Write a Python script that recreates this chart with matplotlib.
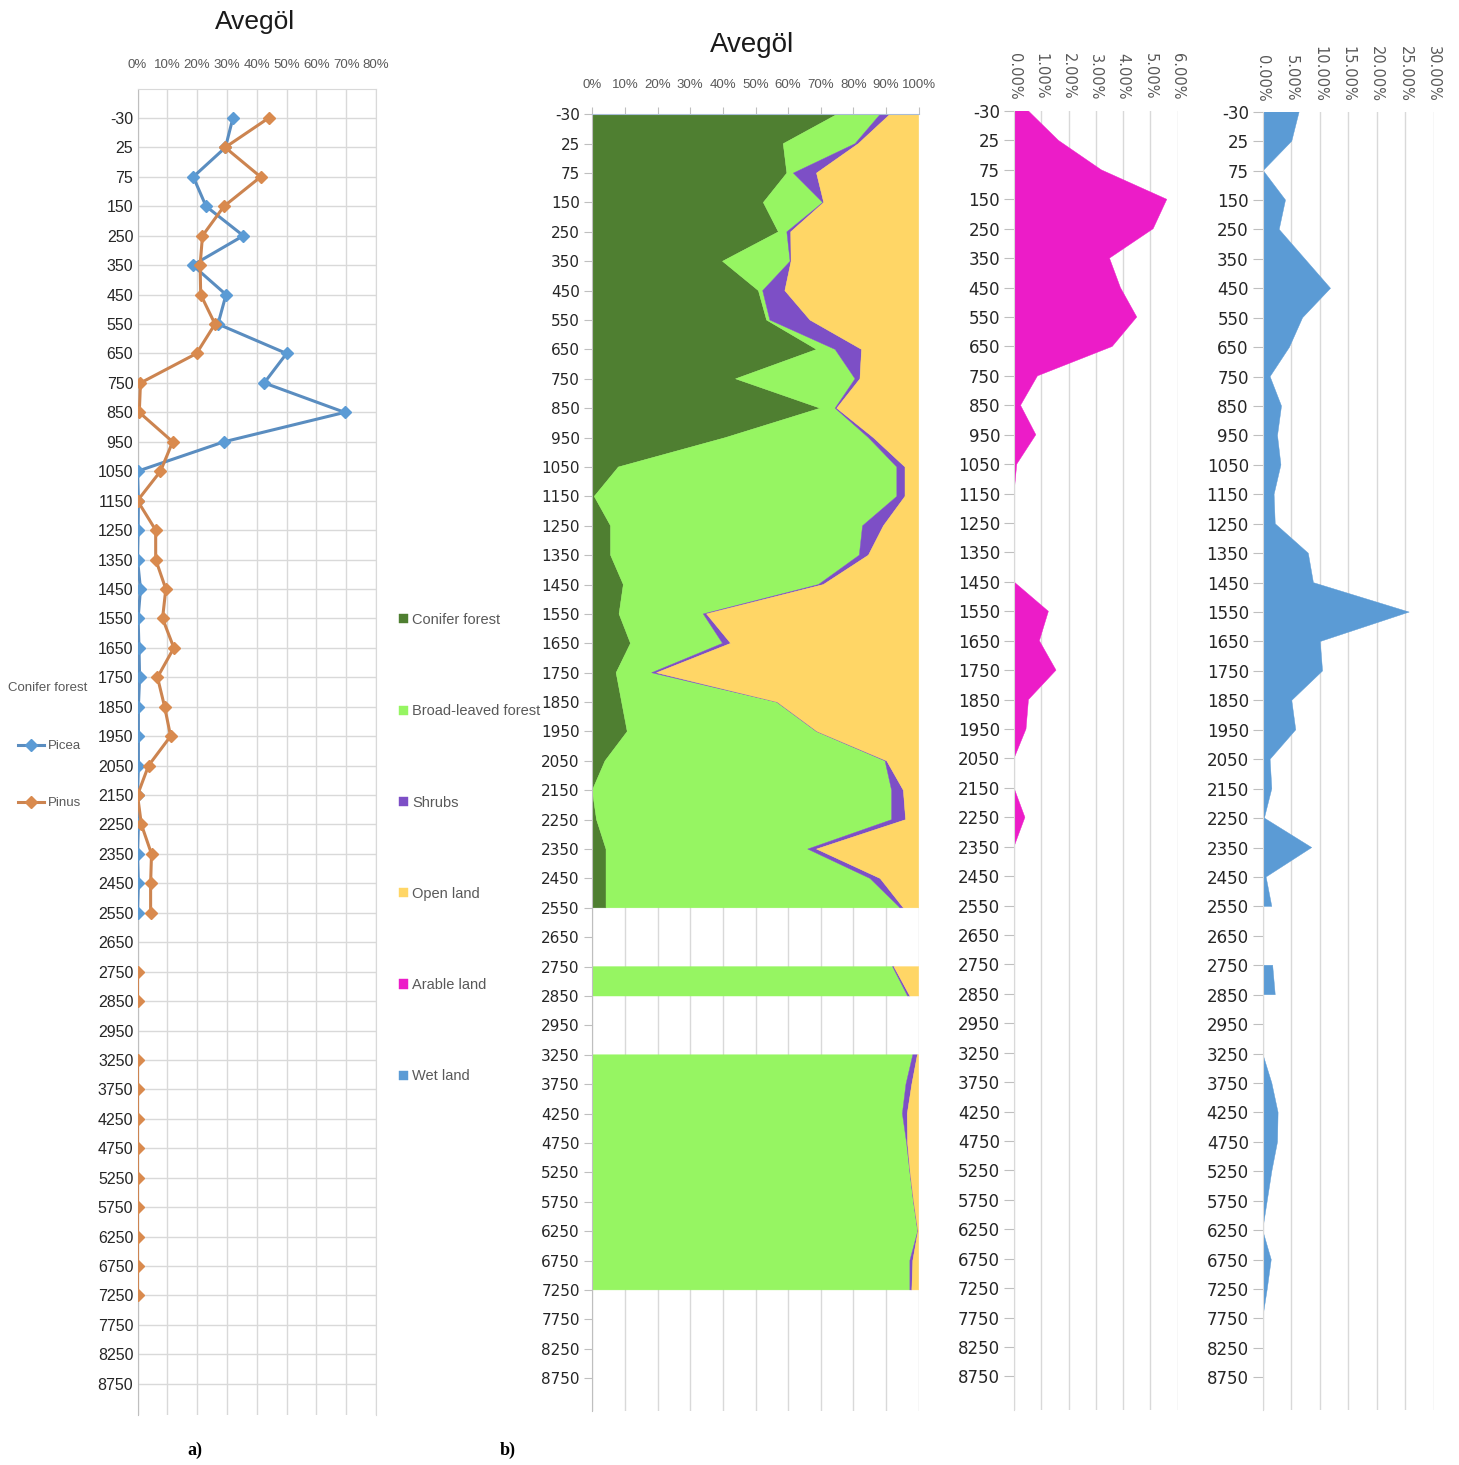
import numpy as np
import matplotlib
matplotlib.use("Agg")
import matplotlib.pyplot as plt

NARROW = ["Liberation Sans", "DejaVu Sans"]
WIDE = ["DejaVu Sans"]
plt.rcParams["font.family"] = NARROW

nan = np.nan

# Age categories (cal. yr BP) shared by every panel
ages = ["-30", "25", "75", "150", "250", "350", "450", "550", "650", "750",
        "850", "950", "1050", "1150", "1250", "1350", "1450", "1550", "1650",
        "1750", "1850", "1950", "2050", "2150", "2250", "2350", "2450", "2550",
        "2650", "2750", "2850", "2950", "3250", "3750", "4250", "4750", "5250",
        "5750", "6250", "6750", "7250", "7750", "8250", "8750"]

# a) conifer taxa (%)
picea = [32, 29.5, 18.7, 23, 35.5, 18.5, 29.7, 27, 50, 42.5, 69.5, 29, 0, 0.3,
         0.2, 0, 1, 0.2, 0.5, 0.7, 0.3, 0.3, 0.3, 0, 0.3, 0, 0.3, 0,
         nan, nan, nan, nan, nan, nan, nan, nan, nan, nan, nan, nan, nan,
         nan, nan, nan]
pinus = [44, 29.4, 41.3, 29, 21.8, 21, 21.2, 26, 19.8, 1, 0.6, 11.8, 7.7, 0,
         6.1, 6.1, 9.5, 8.4, 12.2, 6.7, 9.1, 11.1, 3.7, 0, 1.3, 4.7, 4.4, 4.4,
         nan, 0, 0, nan, 0, 0, 0, 0, 0, 0, 0, 0, 0, nan, nan, nan]

# b) vegetation groups (%)
conifer = [75, 58.5, 59.6, 52.4, 57.0, 39.9, 50.9, 53.4, 68.7, 43.9, 69.8, 40.8,
           8.0, 0.6, 5.6, 5.6, 9.5, 8.2, 11.7, 7.3, 9.0, 10.7, 3.9, 0, 1.3, 4.2,
           4.2, 4.2, nan, 0, 0, nan, 0, 0, 0, 0, 0, 0, 0, 0, 0, nan, nan, nan]
broadleaved = [13.2, 22, 2, 18.2, 2.6, 20.7, 1.3, 1.0, 5.7, 36.6, 4.6, 43.8,
               85.3, 92.7, 77.2, 76.2, 59.8, 25.8, 28.2, 10.9, 47.5, 58.0, 85.8,
               91.7, 90.4, 61.8, 80.9, 90.1, nan, 92.0, 96.6, nan, 98.2, 96.1,
               95.0, 96.3, 97.3, 98.4, 99.7, 97.3, 97.3, nan, nan, nan]
shrubs = [3.0, 1.0, 7.1, 0.3, 1.2, 0.3, 6.8, 12.3, 8.1, 1.5, 0.5, 1.5, 2.5, 2.5,
          6.4, 2.8, 1.5, 1.0, 2.5, 1.5, 0.2, 0.2, 0.5, 3.6, 4.3, 2.7, 3.1, 1.0,
          nan, 0.4, 0.7, nan, 1.4, 1.8, 1.5, 0.3, 0.1, 0.1, 0.1, 0.9, 0.6,
          nan, nan, nan]
open_land = [8.8, 18.5, 31.3, 29.1, 39.2, 39.1, 41.0, 33.3, 17.5, 18.0, 25.1,
             13.9, 4.2, 4.2, 10.8, 15.4, 29.2, 65.0, 57.6, 80.3, 43.3, 31.1, 9.8,
             4.7, 4.0, 31.3, 11.8, 4.7, nan, 7.6, 2.7, nan, 0.4, 2.1, 3.5, 3.4,
             2.6, 1.5, 0.2, 1.8, 2.1, nan, nan, nan]
arable = [0.53, 1.63, 3.2, 5.6, 5.1, 3.5, 3.9, 4.5, 3.6, 0.86, 0.24, 0.8, 0.1,
          0, 0, 0, 0, 1.26, 0.93, 1.54, 0.53, 0.44, 0, 0, 0.4, 0, 0, 0, nan, 0,
          0, nan, 0, 0, 0, 0, 0, 0, 0, 0, 0, nan, nan, nan]
wetland = [6.4, 5.1, 0.1, 4.0, 2.9, 7.4, 11.9, 7.0, 4.7, 1.3, 3.3, 2.6, 3.2, 2.0,
           2.2, 8.0, 8.9, 25.7, 10.1, 10.5, 5.1, 5.8, 1.3, 1.6, 0.3, 8.6, 0.6,
           1.6, nan, 1.75, 2.2, nan, 0, 1.6, 2.7, 2.6, 1.6, 0.8, 0, 1.5, 0.8, 0,
           nan, nan]

group_names = ["Conifer forest", "Broad-leaved forest", "Shrubs", "Open land",
               "Arable land", "Wet land"]
group_colors = ["#4F7F31", "#96F562", "#7D4FC6", "#FFD666", "#EC1CC8", "#5B9BD5"]

W, H = 1459, 1465
fig = plt.figure(figsize=(W / 100, H / 100), dpi=100)


def rect(x0, x1, y0, y1):
    return [x0 / W, 1 - y1 / H, (x1 - x0) / W, (y1 - y0) / H]


pos = np.arange(len(ages))
GRID = "#D9D9D9"
AXIS = "#BFBFBF"
LABEL = "#262626"
MUTED = "#595959"

# ---------------- a) Picea / Pinus line chart ----------------
axA = fig.add_axes(rect(137.5, 376, 89, 1415))
axA.plot(picea, pos, color="#5A8DC0", lw=2.2, marker="D", ms=6.5,
         mfc="#5B9BD5", mec="#5B9BD5", zorder=3, label="Picea")
axA.plot(pinus, pos, color="#CC8450", lw=2.2, marker="D", ms=6.5,
         mfc="#D98A4E", mec="#D98A4E", zorder=4, label="Pinus")
axA.set_xlim(0, 80)
axA.set_ylim(44.06, -0.985)
axA.xaxis.tick_top()
axA.set_xticks(np.arange(0, 81, 10))
axA.set_xticklabels([f"{v}%" for v in range(0, 81, 10)], fontsize=9.5,
                    color=MUTED)
axA.set_yticks(pos)
axA.set_yticklabels(ages, fontsize=11.5, color=LABEL)
axA.tick_params(axis="x", length=0, pad=13)
axA.tick_params(axis="y", length=0, pad=3)
axA.grid(True, color=GRID, lw=1)
axA.set_axisbelow(True)
for side in ("top", "right"):
    axA.spines[side].set_color(GRID)
axA.spines["left"].set_color(AXIS)
axA.spines["bottom"].set_visible(False)

fig.text(8 / W, 1 - 688 / H, "Conifer forest", fontsize=9.5, color=MUTED,
         ha="left", va="center")
fig.legend(handles=axA.get_lines(), labels=["Picea", "Pinus"],
           loc="upper left", bbox_to_anchor=(18 / W, 1 - 740 / H),
           frameon=False, fontsize=9.5, labelcolor=MUTED, borderpad=0,
           borderaxespad=0, labelspacing=3.4, handlelength=2.0,
           handletextpad=0.3)

fig.text(255 / W, 1 - 22 / H, "Avegöl", fontsize=19, color="#1A1A1A",
         ha="center", va="center")
fig.text(195 / W, 1 - 1450 / H, "a)", fontsize=13, fontweight="bold",
         family="Liberation Serif", ha="center", va="center")

# ---------------- b) 100 % stacked vegetation groups ----------------
axB = fig.add_axes(rect(592.3, 918.7, 114.3, 1411))
layers = np.array([conifer, broadleaved, shrubs, open_land], dtype=float)
shares = layers / layers.sum(axis=0) * 100
tops = np.cumsum(shares, axis=0)
bottoms = np.vstack([np.where(np.isnan(tops[0]), nan, 0.0), tops[:-1]])
handles = []
for k in range(4):
    h = axB.fill_betweenx(pos, bottoms[k], tops[k], color=group_colors[k],
                          lw=0.3, ec=group_colors[k], zorder=2)
    handles.append(h)
axB.set_xlim(0, 100)
axB.set_ylim(44.12, 0)
axB.xaxis.tick_top()
axB.set_xticks(np.arange(0, 101, 10))
axB.set_xticklabels([f"{v}%" for v in range(0, 101, 10)], fontsize=9.5,
                    color=MUTED)
axB.set_yticks(pos)
axB.set_yticklabels(ages, fontsize=11, color=LABEL, family=WIDE)
axB.tick_params(axis="x", length=5, color=AXIS, pad=12)
axB.tick_params(axis="y", length=6, color=AXIS, pad=3)
axB.grid(True, axis="x", color=GRID, lw=1, zorder=0)
axB.set_axisbelow(True)
for side in ("right", "bottom"):
    axB.spines[side].set_visible(False)
axB.spines["top"].set_color("#A9BCD6")
axB.spines["left"].set_color(AXIS)

fig.text(752 / W, 1 - 45 / H, "Avegöl", fontsize=20, color="#1A1A1A",
         ha="center", va="center")
fig.text(508 / W, 1 - 1450 / H, "b)", fontsize=13, fontweight="bold",
         family="Liberation Serif", ha="center", va="center")

# ---------------- Arable land ----------------
axC = fig.add_axes(rect(1014, 1177.7, 111, 1410))
hC = axC.fill_betweenx(pos, 0, arable, color=group_colors[4], lw=0.3,
                       ec=group_colors[4], zorder=2)
axC.set_xlim(0, 6)
axC.set_ylim(44.14, 0)

# ---------------- Wet land ----------------
axD = fig.add_axes(rect(1262.7, 1433.7, 111.7, 1410))
hD = axD.fill_betweenx(pos, 0, wetland, color=group_colors[5], lw=0.3,
                       ec=group_colors[5], zorder=2)
axD.set_xlim(0, 30)
axD.set_ylim(44.11, 0)

for ax, step, top_pad in ((axC, 1, 8), (axD, 5, 7)):
    lo, hi = ax.get_xlim()
    ticks = np.arange(lo, hi + step / 2, step)
    ax.xaxis.tick_top()
    ax.set_xticks(ticks)
    ax.set_xticklabels([f"{t:.2f}%" for t in ticks], rotation=-90,
                       fontsize=10.5, color=MUTED, family=WIDE)
    ax.set_yticks(pos)
    ax.set_yticklabels(ages, fontsize=12, color=LABEL, family=WIDE)
    ax.tick_params(axis="x", length=0, pad=top_pad)
    ax.tick_params(axis="y", length=7, color=AXIS, pad=3)
    ax.grid(True, axis="x", color=GRID, lw=1, zorder=0)
    ax.set_axisbelow(True)
    for side in ("top", "right", "bottom"):
        ax.spines[side].set_visible(False)
    ax.spines["left"].set_color(GRID)

handles += [hC, hD]
fig.legend(handles=handles, labels=group_names, loc="upper left",
           bbox_to_anchor=(399 / W, 1 - 613 / H), frameon=False, fontsize=10.5,
           labelcolor=MUTED, borderpad=0, borderaxespad=0, labelspacing=5.3,
           handlelength=0.6, handleheight=0.6, handletextpad=0.3)

fig.savefig("out.png", dpi=100, facecolor="white")
